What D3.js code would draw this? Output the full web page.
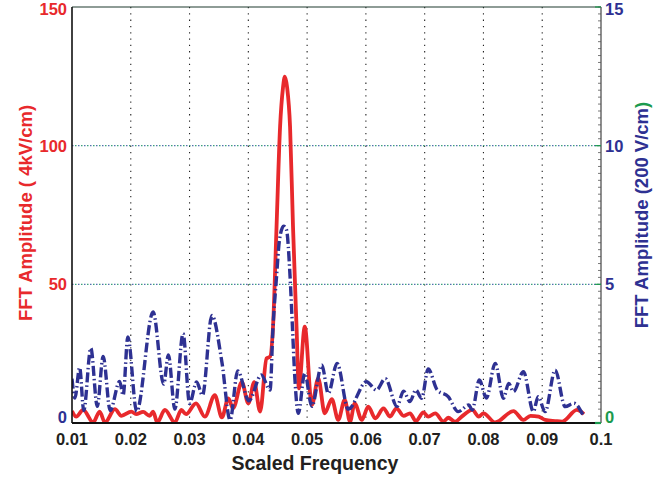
<!DOCTYPE html>
<html>
<head>
<meta charset="utf-8">
<script src="https://cdn.jsdelivr.net/npm/d3@7"></script>
<style>
body { margin: 0; background: #fff; }
text { font-family: "Liberation Sans", Arial, sans-serif; font-weight: bold; }
</style>
</head>
<body>
<script>
//data
//red curve, left axis (4kV/cm)
var redFreq = [0.0100, 0.0107, 0.0119, 0.0136, 0.0147, 0.0156, 0.0173, 0.0184, 0.0201, 0.0209,
    0.0221, 0.0232, 0.0238, 0.0245, 0.0258, 0.0275, 0.0286, 0.0294, 0.0311, 0.0326,
    0.0343, 0.0355, 0.0366, 0.0374, 0.0389, 0.0400, 0.0410, 0.0420, 0.0431, 0.0437,
    0.0442, 0.0448, 0.0454, 0.0459, 0.0462, 0.0466, 0.0471, 0.0476, 0.0482, 0.0486,
    0.0496, 0.0508, 0.0519, 0.0530, 0.0542, 0.0553, 0.0564, 0.0573, 0.0581, 0.0593,
    0.0604, 0.0616, 0.0630, 0.0641, 0.0652, 0.0664, 0.0675, 0.0685, 0.0698, 0.0706,
    0.0718, 0.0732, 0.0740, 0.0752, 0.0763, 0.0781, 0.0792, 0.0800, 0.0820, 0.0851,
    0.0868, 0.0880, 0.0894, 0.0905, 0.0922, 0.0934, 0.0959, 0.0971];
var redAmp = [4.3, 2.3, 4.7, 0.2, 4.1, 0.2, 5.0, 2.6, 4.1, 3.2,
    4.0, 2.6, 4.1, 0.2, 4.7, 0.2, 4.7, 3.2, 7.1, 2.3,
    10.0, 2.0, 8.9, 5.3, 14.7, 7.1, 14.7, 4.1, 23.3, 23.9,
    34.7, 70.8, 106.8, 121, 124.9, 121, 106.8, 70.8, 34.7, 12.5,
    34.7, 6.5, 16.1, 3.5, 8.6, 1.1, 8.3, 0.5, 7.1, 1.1,
    5.9, 1.7, 5.3, 2.3, 5.3, 2.6, 3.5, 0.7, 3.8, 2.3,
    3.5, 0.5, 1.9, 0.5, 2.3, 4.7, 2.3, 3.5, 0.2, 4.3,
    1.1, 2.6, 2.3, 1.1, 0.7, 0.5, 4.7, 3.2];

//blue curve, right axis (200 V/cm)
var blueFreq = [0.0100, 0.0105, 0.0113, 0.0120, 0.0132, 0.0143, 0.0153, 0.0165, 0.0181, 0.0187,
    0.0195, 0.0210, 0.0238, 0.0256, 0.0264, 0.0275, 0.0289, 0.0300, 0.0312, 0.0322,
    0.0338, 0.0355, 0.0369, 0.0382, 0.0401, 0.0422, 0.0437, 0.0442, 0.0448, 0.0453,
    0.0460, 0.0465, 0.0471, 0.0475, 0.0479, 0.0485, 0.0496, 0.0508, 0.0525, 0.0536,
    0.0551, 0.0570, 0.0601, 0.0618, 0.0633, 0.0653, 0.0664, 0.0675, 0.0685, 0.0695,
    0.0706, 0.0721, 0.0740, 0.0757, 0.0775, 0.0781, 0.0793, 0.0805, 0.0820, 0.0834,
    0.0843, 0.0851, 0.0868, 0.0885, 0.0893, 0.0905, 0.0922, 0.0939, 0.0954, 0.0969];
var blueAmp = [1.6, 0.9, 2.0, 0.45, 2.7, 0.6, 2.4, 0.45, 1.5, 1.0,
    3.1, 0.42, 4.0, 1.4, 2.45, 0.5, 3.23, 0.7, 1.48, 1.0,
    3.88, 2.2, 0.11, 1.88, 0.8, 1.73, 1.19, 3.47, 5.28, 6.6,
    7.1, 6.96, 5.28, 3.47, 1.67, 0.35, 1.79, 0.6, 2.09, 1.07,
    2.15, 0.5, 1.49, 1.19, 1.6, 0.6, 1.15, 0.77, 1.19, 0.89,
    1.95, 1.2, 0.95, 0.41, 0.65, 0.47, 1.55, 0.9, 2.15, 0.89,
    1.43, 1.13, 1.85, 0.41, 0.95, 0.41, 1.91, 0.59, 0.71, 0.3];

//ticks
var xTicks = [0.01, 0.02, 0.03, 0.04, 0.05, 0.06, 0.07, 0.08, 0.09, 0.1];
var xTickLabels = ["0.01", "0.02", "0.03", "0.04", "0.05", "0.06", "0.07", "0.08", "0.09", "0.1"];
var leftTicks = [0, 50, 100, 150];
var rightTicks = [0, 5, 10, 15];

var red = "#e8292c",
    navy = "#2e3192",
    green = "#1b9a4e";

var width = 668,
    height = 478;

var svg = d3.select("body")
    .append("svg")
    .attr("width", width)
    .attr("height", height);

//scales
var x = d3.scaleLinear().domain([0.01, 0.1]).range([72, 601]);
var yLeft = d3.scaleLinear().domain([0, 150]).range([423, 7]);
var yRight = d3.scaleLinear().domain([0, 15]).range([423, 7]);

//nudge the end labels so they stay inside the picture / clear of the x labels
function labelY(scale, d, top){
    if (d === 0) return scale(d) - 6;
    if (d === top) return scale(d) + 2;
    return scale(d);
}

//vertical dotted grid
svg.selectAll(".vgrid")
    .data(xTicks.slice(1, -1))
    .enter()
    .append("line")
    .attr("class", "vgrid")
    .attr("x1", function(d){ return x(d); })
    .attr("x2", function(d){ return x(d); })
    .attr("y1", yLeft(150))
    .attr("y2", yLeft(0))
    .attr("stroke", "#222")
    .attr("stroke-width", 1.1)
    .attr("stroke-dasharray", "1.3,5");

//horizontal dotted grid, blue and green dots from both axes
[{c: "#5470b0", off: 0}, {c: "#3aa27a", off: 3}].forEach(function(g){
    svg.selectAll(".hgrid" + g.off)
        .data(leftTicks.slice(1, -1))
        .enter()
        .append("line")
        .attr("x1", x(0.01))
        .attr("x2", x(0.1))
        .attr("y1", function(d){ return yLeft(d); })
        .attr("y2", function(d){ return yLeft(d); })
        .attr("stroke", g.c)
        .attr("stroke-width", 1.2)
        .attr("stroke-dasharray", "1.5,4.5")
        .attr("stroke-dashoffset", -g.off);
});

//clip for the curves
svg.append("clipPath")
    .attr("id", "plotclip")
    .append("rect")
    .attr("x", x(0.01))
    .attr("y", yLeft(150))
    .attr("width", x(0.1) - x(0.01))
    .attr("height", yLeft(0) - yLeft(150));

var redLine = d3.line()
    .x(function(d, i){ return x(redFreq[i]); })
    .y(function(d){ return yLeft(d); })
    .curve(d3.curveMonotoneX);

var blueLine = d3.line()
    .x(function(d, i){ return x(blueFreq[i]); })
    .y(function(d){ return yRight(d); })
    .curve(d3.curveMonotoneX);

svg.append("path")
    .datum(redAmp)
    .attr("clip-path", "url(#plotclip)")
    .attr("fill", "none")
    .attr("stroke", red)
    .attr("stroke-width", 3.8)
    .attr("stroke-linejoin", "round")
    .attr("d", redLine);

svg.append("path")
    .datum(blueAmp)
    .attr("clip-path", "url(#plotclip)")
    .attr("fill", "none")
    .attr("stroke", navy)
    .attr("stroke-width", 3.4)
    .attr("stroke-dasharray", "10,3,1.5,3")
    .attr("d", blueLine);

//frame
svg.append("line")
    .attr("x1", x(0.01)).attr("x2", x(0.1))
    .attr("y1", yLeft(150)).attr("y2", yLeft(150))
    .attr("stroke", "#1e3a2e").attr("stroke-width", 1.2);
svg.append("line")
    .attr("x1", x(0.1)).attr("x2", x(0.1))
    .attr("y1", yLeft(150)).attr("y2", yLeft(0))
    .attr("stroke", "#444").attr("stroke-width", 1.2);

//right minor ticks
svg.selectAll(".minor")
    .data(d3.range(0, 15.01, 0.25))
    .enter()
    .append("line")
    .attr("x1", x(0.1) - 3)
    .attr("x2", x(0.1))
    .attr("y1", function(d){ return yRight(d); })
    .attr("y2", function(d){ return yRight(d); })
    .attr("stroke", "#555")
    .attr("stroke-width", 0.8);

//right major ticks
svg.selectAll(".rmajor")
    .data(rightTicks)
    .enter()
    .append("line")
    .attr("x1", x(0.1) - 6)
    .attr("x2", x(0.1))
    .attr("y1", function(d){ return yRight(d); })
    .attr("y2", function(d){ return yRight(d); })
    .attr("stroke", green)
    .attr("stroke-width", 1.2);

//left and bottom axis lines
svg.append("line")
    .attr("x1", x(0.01)).attr("x2", x(0.01))
    .attr("y1", yLeft(150)).attr("y2", yLeft(0))
    .attr("stroke", "#111").attr("stroke-width", 1.6);
svg.append("line")
    .attr("x1", x(0.01)).attr("x2", x(0.1))
    .attr("y1", yLeft(0)).attr("y2", yLeft(0))
    .attr("stroke", "#111").attr("stroke-width", 2.2);
svg.append("line")
    .attr("x1", x(0.1) - 6).attr("x2", x(0.1))
    .attr("y1", yLeft(0)).attr("y2", yLeft(0))
    .attr("stroke", green).attr("stroke-width", 2.2);

//tick labels
svg.selectAll(".xlab")
    .data(xTicks)
    .enter()
    .append("text")
    .attr("x", function(d){ return x(d); })
    .attr("y", 445)
    .attr("text-anchor", "middle")
    .attr("font-size", 16.5)
    .attr("fill", "#231f20")
    .text(function(d, i){ return xTickLabels[i]; });

svg.selectAll(".llab")
    .data(leftTicks)
    .enter()
    .append("text")
    .attr("x", 67)
    .attr("y", function(d){ return labelY(yLeft, d, 150); })
    .attr("dy", "0.36em")
    .attr("text-anchor", "end")
    .attr("font-size", 16.5)
    .attr("fill", function(d){ return d === 0 ? navy : red; })
    .text(function(d){ return d; });

svg.selectAll(".rlab")
    .data(rightTicks)
    .enter()
    .append("text")
    .attr("x", 605)
    .attr("y", function(d){ return labelY(yRight, d, 15); })
    .attr("dy", "0.36em")
    .attr("text-anchor", "start")
    .attr("font-size", 16.5)
    .attr("fill", function(d){ return d === 0 ? green : navy; })
    .text(function(d){ return d; });

//axis titles
svg.append("text")
    .attr("x", 315)
    .attr("y", 470)
    .attr("text-anchor", "middle")
    .attr("font-size", 19.5)
    .attr("fill", "#231f20")
    .text("Scaled Frequency");

svg.append("text")
    .attr("transform", "translate(32,213) rotate(-90)")
    .attr("text-anchor", "middle")
    .attr("font-size", 18.5)
    .attr("fill", red)
    .text("FFT Amplitude ( 4kV/cm)");

var rt = svg.append("text")
    .attr("transform", "translate(648,215) rotate(-90)")
    .attr("text-anchor", "middle")
    .attr("font-size", 18.5)
    .attr("fill", navy);
rt.append("tspan").text("FFT Amplitude (200 V/cm");
rt.append("tspan").attr("fill", green).text(")");
</script>
</body>
</html>
